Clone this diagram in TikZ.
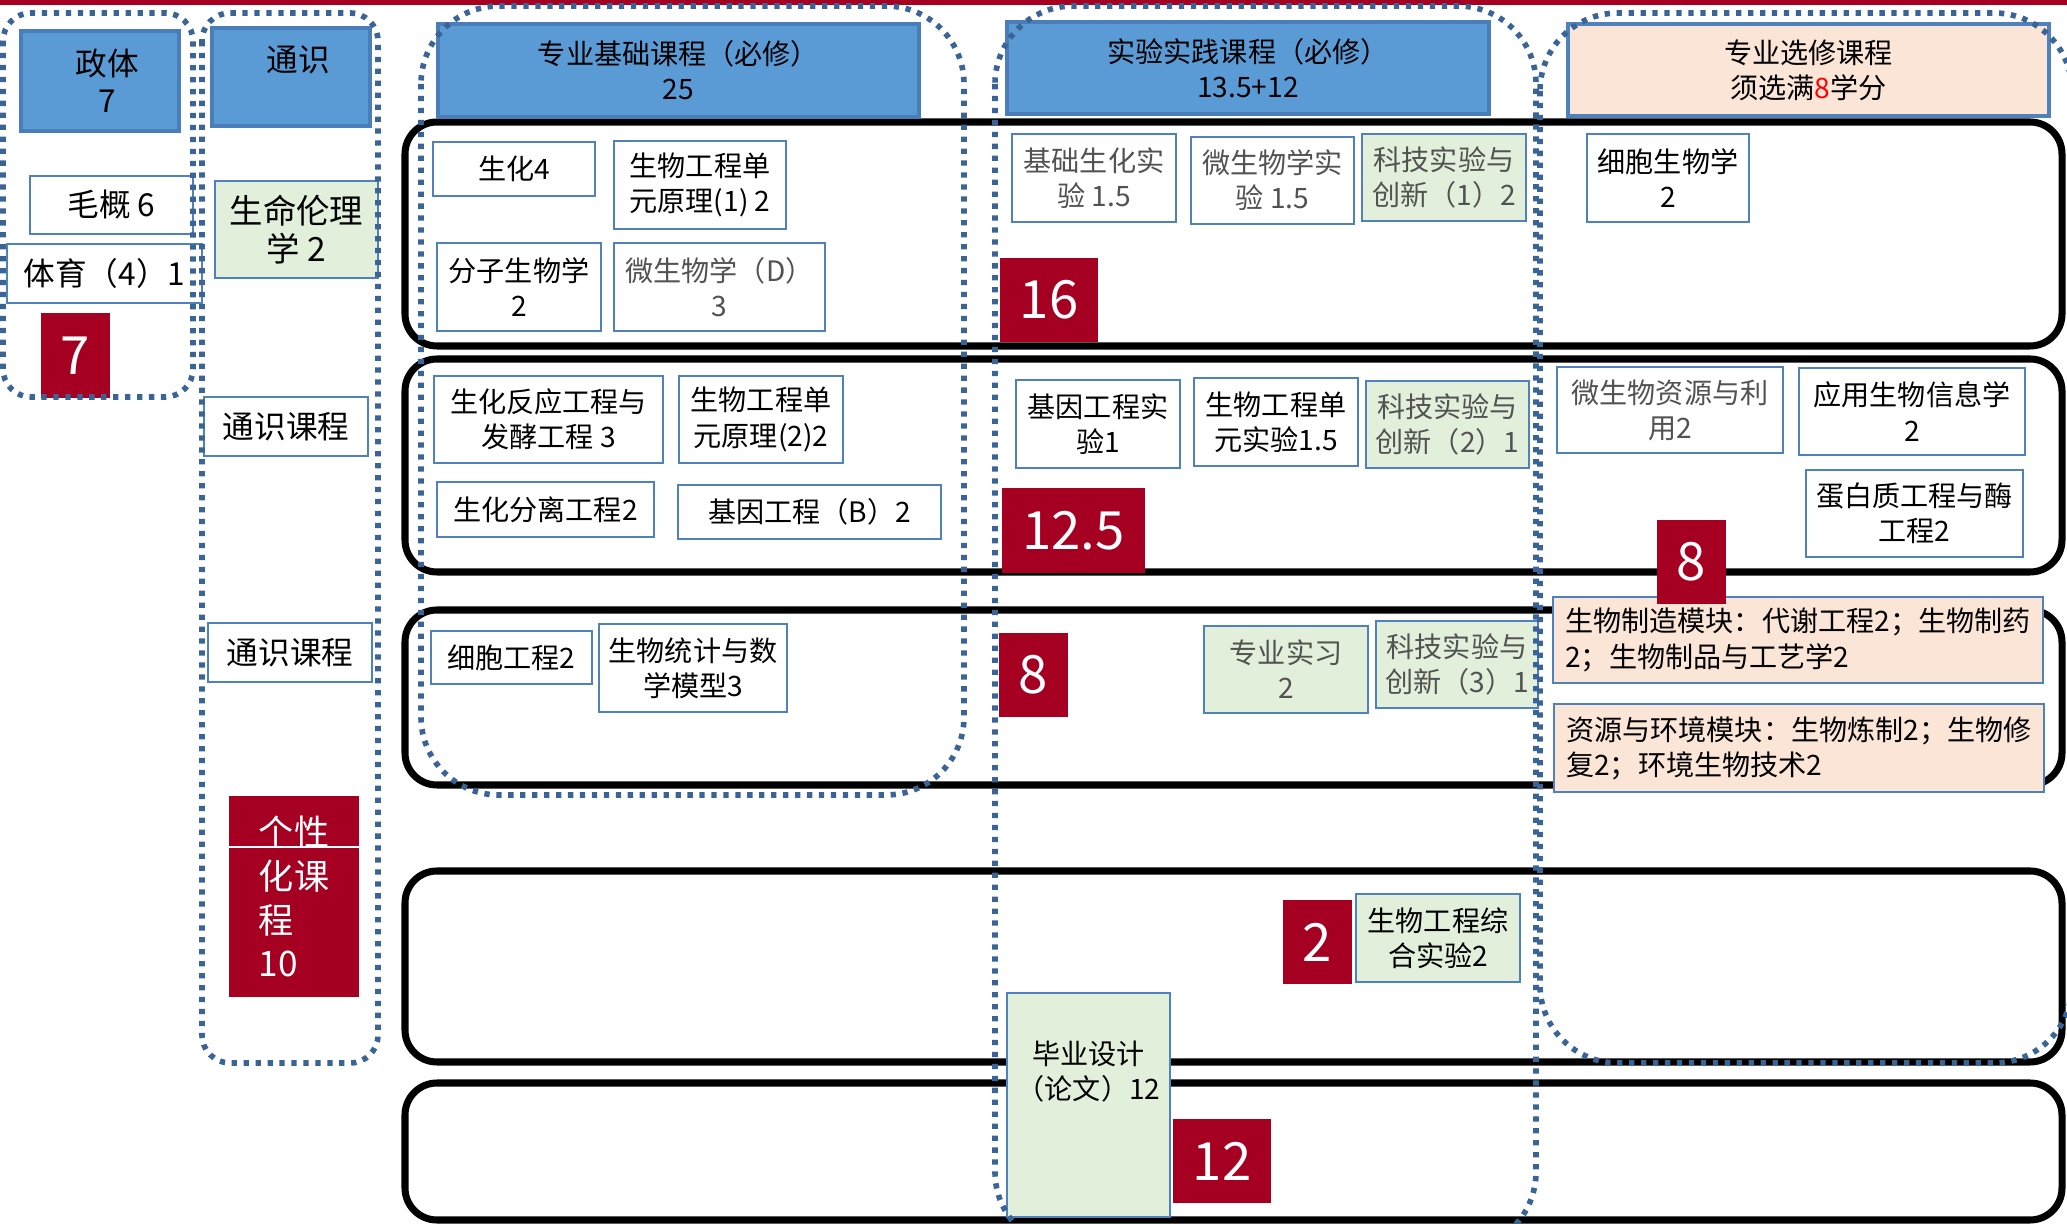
\documentclass[tikz,border=0pt]{standalone}
\usepackage{fontspec}
\setmainfont{Noto Sans CJK SC}
\definecolor{credred}{HTML}{A50021}
\definecolor{headblue}{HTML}{5B9BD5}
\definecolor{headline}{HTML}{4A7EBB}
\definecolor{boxline}{HTML}{4F81BD}
\definecolor{labgreen}{HTML}{E2EFDA}
\definecolor{peach}{HTML}{FBE5D6}
\definecolor{dotblue}{HTML}{3B6496}
\begin{document}
\begin{tikzpicture}[x=0.1mm,y=-0.1mm,
	every node/.style={inner sep=0pt,align=center,font=\fontsize{8}{10}\selectfont},
	wh/.style 2 args={minimum width=#1mm,minimum height=#2mm},
	big/.style={font=\fontsize{9}{10.5}\selectfont},
	head/.style={draw=headline,fill=headblue,line width=0.9pt},
	course/.style={draw=boxline,fill=white,line width=0.7pt},
	labcourse/.style={course,fill=labgreen},
	optcourse/.style={course,fill=peach},
	thin/.style={text=black!68},
	credit/.style={fill=credred,text=white,font=\fontsize{15}{18}\selectfont},
	band/.style={draw=black,line width=2pt,rounded corners=3.2mm},
	group/.style={draw=dotblue,line width=1.6pt,dash pattern=on 1.5pt off 1.9pt}]
	\useasboundingbox (0,0) rectangle (2067,1224);
	\clip (0,0) rectangle (2067,1224);
	\fill[credred] (0,0) rectangle (2067,5);
	\draw[band] (405,122) rectangle (2062,346);
	\draw[band] (405,359) rectangle (2062,572);
	\draw[band] (405,610) rectangle (2062,785);
	\draw[band] (405,871) rectangle (2062,1062);
	\draw[band] (405,1083) rectangle (2062,1220);
	\node[head,big,wh={15.8}{10}] (zhengti) at (100,81) {\hspace*{1.5mm}政体\\\hspace*{1.5mm}7};
	\node[course,big,wh={16.3}{5.8}] (maogai) at (111.5,205) {毛概 6};
	\node[course,big,wh={19.5}{5.9}] (tiyu) at (104.5,273.5) {体育（4）1};
	\node[credit,wh={6.9}{8.5}] (zhengtiN) at (75.5,355.5) {7};
	\node[head,big,wh={15.8}{9.8}] (tongshi) at (291,77) {\hspace*{1.5mm}通识\\\mbox{}};
	\node[labcourse,wh={16.3}{9.7},font=\fontsize{9.5}{11}\selectfont] (lunli) at (296.5,229.5) {生命伦理\\学 2};
	\node[course,big,wh={16.4}{5.9}] (tongshiA) at (286,426.5) {通识课程};
	\node[course,big,wh={16.4}{5.9}] (tongshiB) at (290,652.5) {通识课程};
	\node[credit,wh={13}{20.1},align=left,font=\fontsize{10}{12.5}\selectfont] (gexing) at (294,896.5) {个性\\化课\\程\\10};
	\draw[white,line width=0.6pt] (gexing.west |- 0,847) -- (gexing.east |- 0,847);
	\node[head,wh={48.1}{9.3}] (jichu) at (678.5,70.5) {专业基础课程（必修）\\25};
	\node[head,wh={48.2}{9.2}] (shijian) at (1248,68) {实验实践课程（必修）\\13.5+12};
	\node[optcourse,line width=0.9pt,wh={48.1}{9.2}] (xuanxiu) at (1808.5,70) {专业选修课程\\须选满\textcolor{red}{8}学分};
	\node[course,wh={16.2}{5.4}] (shenghua) at (514,169) {生化4};
	\node[course,wh={17.2}{8.8}] (yuanliA) at (700,185) {生物工程单\\元原理(1) 2};
	\node[course,wh={16.4}{8.8}] (fenzi) at (519,287) {分子生物学\\2};
	\node[course,thin,wh={21.1}{8.8}] (weisheng) at (719.5,287) {微生物学（D）\\3};
	\node[course,wh={22.9}{8.7}] (fanying) at (548.5,419.5) {生化反应工程与\\发酵工程 3};
	\node[course,wh={16.4}{8.7}] (yuanliB) at (761,419.5) {生物工程单\\元原理(2)2};
	\node[course,wh={21.7}{5.5}] (fenli) at (545.5,509.5) {生化分离工程2};
	\node[course,wh={26.3}{5.4}] (jiyin) at (809.5,512) {基因工程（B）2};
	\node[course,wh={16.1}{5.3}] (xibao) at (511.5,657.5) {细胞工程2};
	\node[course,wh={18.8}{8.8}] (tongji) at (693,668) {生物统计与数\\学模型3};
	\node[course,thin,wh={16.4}{8.8}] (jichuSY) at (1094,178) {基础生化实\\验 1.5};
	\node[course,thin,wh={16.3}{8.7}] (weishengSY) at (1272.5,180.5) {微生物学实\\验 1.5};
	\node[labcourse,thin,wh={16.4}{8.7}] (kejiA) at (1444,177.5) {科技实验与\\创新（1）2};
	\node[course,wh={16.4}{8.8}] (jiyinSY) at (1098,424) {基因工程实\\验1};
	\node[course,wh={16.4}{8.8}] (danyuanSY) at (1276,422) {生物工程单\\元实验1.5};
	\node[labcourse,thin,wh={16.3}{8.7}] (kejiB) at (1447.5,424.5) {科技实验与\\创新（2）1};
	\node[labcourse,thin,wh={16.4}{8.7}] (shixi) at (1286,669.5) {专业实习\\2};
	\node[labcourse,thin,wh={16.2}{8.7}] (kejiC) at (1457,664.5) {科技实验与\\创新（3）1};
	\node[labcourse,wh={16.4}{8.8}] (zonghe) at (1438,938) {生物工程综\\合实验2};
	\node[labcourse,wh={16.3}{22.4}] (biye) at (1088.5,1105) {毕业设计\\（论文）12\\[3.4mm]\mbox{}};
	\node[course,wh={16.2}{8.8}] (xibaoSW) at (1668,178) {细胞生物学\\2};
	\node[course,thin,wh={22.6}{8.6}] (ziyuan) at (1670,410) {微生物资源与利\\用2};
	\node[course,wh={22.6}{8.7}] (xinxi) at (1912,411.5) {应用生物信息学\\2};
	\node[course,wh={21.7}{8.7}] (danbai) at (1914.5,513.5) {蛋白质工程与酶\\工程2};
	\node[optcourse,align=left,wh={49}{8.6}] (zhizao) at (1798,640) {生物制造模块：代谢工程2；生物制药\\2；生物制品与工艺学2};
	\node[optcourse,align=left,wh={49}{8.8}] (huanjing) at (1799,748) {资源与环境模块：生物炼制2；生物修\\复2；环境生物技术2};
	\node[credit,wh={9.8}{8.4}] (rowA) at (1049,300) {16};
	\node[credit,wh={14.3}{8.5}] (rowB) at (1073.5,530.5) {12.5};
	\node[credit,wh={6.9}{8.4}] (rowC) at (1033.5,675) {8};
	\node[credit,wh={6.9}{8.4}] (rowD) at (1317.5,942) {2};
	\node[credit,wh={9.8}{8.4}] (rowE) at (1222,1161) {12};
	\node[credit,wh={6.9}{8.4}] (xuanxiuN) at (1691.5,562) {8};
	\draw[group,rounded corners=2.8mm] (3,13) rectangle (193,397);
	\draw[group,rounded corners=2.8mm] (202,13) rectangle (378,1063);
	\draw[group,rounded corners=7.8mm] (421,6) rectangle (964,795);
	\draw[group,rounded corners=7.8mm] (995,6) rectangle (1536,1250);
	\draw[group,rounded corners=7.8mm] (1540,13) rectangle (2072,1063);
\end{tikzpicture}
\end{document}
